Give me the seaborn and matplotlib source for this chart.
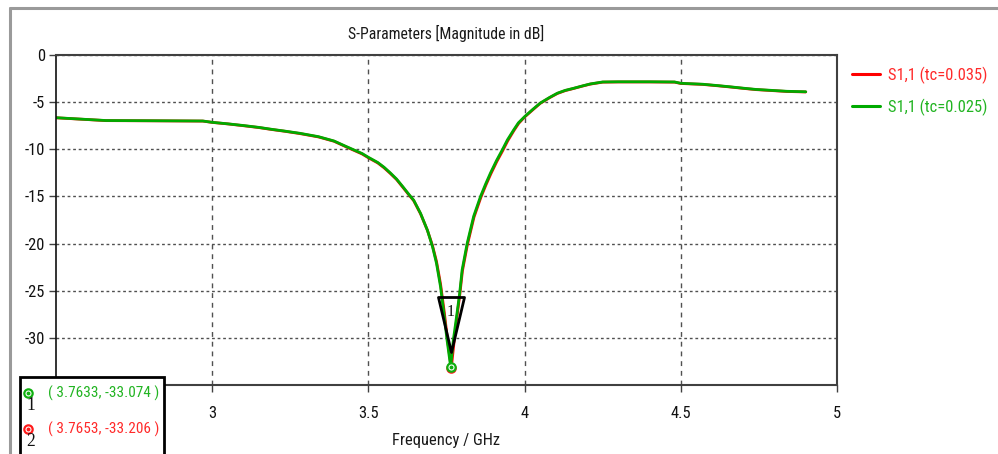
import numpy as np
import pandas as pd
import matplotlib
matplotlib.use("Agg")
import matplotlib.pyplot as plt
import seaborn as sns
from matplotlib.path import Path
from matplotlib.patches import Rectangle
from matplotlib.lines import Line2D
from matplotlib import font_manager

# ---------------- data ----------------
freq_025 = [2.5, 2.58, 2.66, 2.8, 2.97, 3.0, 3.05, 3.1, 3.15, 3.19, 3.23, 3.28, 3.34,
            3.39, 3.43, 3.48, 3.5, 3.53, 3.55, 3.57, 3.59, 3.61, 3.63, 3.645, 3.667, 3.689,
            3.705, 3.718, 3.731, 3.742, 3.752, 3.7633, 3.772, 3.782, 3.792, 3.80, 3.816,
            3.837, 3.859, 3.875, 3.891, 3.91, 3.928, 3.945, 3.965, 3.98, 4.0, 4.025, 4.05,
            4.08, 4.105, 4.13, 4.157, 4.185, 4.21, 4.25, 4.3, 4.4, 4.48,
            4.5, 4.57, 4.62, 4.66, 4.70, 4.74, 4.8, 4.84, 4.9]
s11_025 = [-6.65, -6.8, -6.95, -6.97, -7.0, -7.14, -7.3, -7.48, -7.68, -7.88, -8.06, -8.3, -8.66,
           -9.12, -9.72, -10.45, -10.85, -11.4, -11.9, -12.5, -13.15, -13.96, -14.8, -15.4, -16.8,
           -18.6, -20.3, -22.1, -24.6, -27.5, -30.3, -33.07, -30.2, -27.8, -25.3, -22.8, -20.0,
           -17.1, -15.0, -13.7, -12.5, -11.2, -10.1, -9.0, -7.95, -7.2, -6.54, -5.8, -5.1,
           -4.5, -4.05, -3.75, -3.53, -3.28, -3.07, -2.86, -2.84, -2.84, -2.86,
           -3.0, -3.1, -3.25, -3.38, -3.52, -3.65, -3.77, -3.85, -3.9]

freq_035 = [2.5, 2.58, 2.66, 2.8, 2.97, 3.0, 3.05, 3.1, 3.15, 3.19, 3.23, 3.28, 3.34,
            3.39, 3.43, 3.48, 3.5, 3.53, 3.55, 3.57, 3.59, 3.61, 3.63, 3.645, 3.667, 3.689,
            3.705, 3.718, 3.731, 3.743, 3.754, 3.7653, 3.774, 3.783, 3.793, 3.801, 3.817,
            3.838, 3.86, 3.876, 3.892, 3.911, 3.929, 3.946, 3.966, 3.981, 4.0, 4.025, 4.05,
            4.08, 4.105, 4.13, 4.157, 4.185, 4.21, 4.25, 4.3, 4.4, 4.48,
            4.5, 4.57, 4.62, 4.66, 4.70, 4.74, 4.8, 4.84, 4.9]
s11_035 = [-6.66, -6.81, -6.96, -6.98, -7.01, -7.15, -7.31, -7.5, -7.7, -7.9, -8.08, -8.33, -8.69,
           -9.15, -9.76, -10.5, -10.9, -11.45, -11.96, -12.56, -13.2, -14.02, -14.85, -15.45,
           -16.85, -18.6, -20.2, -21.9, -24.3, -27.3, -30.4, -33.206, -30.5, -27.9, -25.3,
           -22.9, -20.1, -17.2, -15.1, -13.8, -12.6, -11.3, -10.2, -9.1, -8.0, -7.25, -6.58,
           -5.85, -5.13, -4.53, -4.08, -3.78, -3.55, -3.3, -3.09, -2.88, -2.86, -2.86, -2.88,
           -3.02, -3.12, -3.27, -3.4, -3.54, -3.67, -3.79, -3.87, -3.92]

series_labels = ["S1,1 (tc=0.035)", "S1,1 (tc=0.025)"]
series_colors = ["#ff0000", "#00aa00"]
text_colors = ["#ff2a2a", "#22b422"]

marker_freq = [3.7633, 3.7653]
marker_s11 = [-33.074, -33.206]
marker_ids = ["1", "2"]
marker_colors = ["#10b010", "#ff1a1a"]

x_ticks = [3, 3.5, 4, 4.5, 5]
y_ticks = [0, -5, -10, -15, -20, -25, -30]

# ---------------- styling ----------------
sns.set_theme(style="white")
available = {f.name for f in font_manager.fontManager.ttflist}
main_font = "DejaVu Sans"
for cand in ["Liberation Sans Narrow", "DejaVu Sans Condensed", "Roboto Condensed",
             "Open Sans Condensed", "Noto Sans Condensed", "Liberation Sans", "Roboto"]:
    if cand in available:
        main_font = cand
        break
plt.rcParams["font.family"] = [main_font, "DejaVu Sans"]
if main_font == "DejaVu Sans Condensed":
    plt.rcParams["font.stretch"] = "condensed"

W, H = 998, 454
fig = plt.figure(figsize=(W / 100, H / 100), dpi=100)
fig.patch.set_facecolor("white")

# pick a font size so the readout text has the reference width (~110 px)
probe = fig.text(0, 0, f"( {marker_freq[0]:.4f}, {marker_s11[0]:.3f} )", fontsize=10)
fig.canvas.draw()
pw = probe.get_window_extent(fig.canvas.get_renderer()).width
probe.remove()
FS = 10 * 110.0 / pw

ax = fig.add_axes([56 / W, 1 - 385 / H, (837 - 56) / W, 330 / H])

df = pd.concat([
    pd.DataFrame({"freq": freq_035, "s11": s11_035, "series": series_labels[0]}),
    pd.DataFrame({"freq": freq_025, "s11": s11_025, "series": series_labels[1]}),
], ignore_index=True)

sns.lineplot(data=df, x="freq", y="s11", hue="series", hue_order=series_labels,
             palette=series_colors, linewidth=2.0, ax=ax, legend=False,
             sort=False, estimator=None)

ax.set_xlim(2.5, 5)
ax.set_ylim(-35, 0)
ax.set_xticks(x_ticks)
ax.set_xticklabels([f"{t:g}" for t in x_ticks])
ax.set_yticks(y_ticks)
ax.set_yticklabels([f"{t:g}" for t in y_ticks])
ax.set_xlabel("")
ax.set_ylabel("")

ax.set_axisbelow(True)
ax.xaxis.grid(True, linestyle=(0, (3.5, 3.5)), color="#505050", linewidth=1.0)
ax.yaxis.grid(True, linestyle=(0, (2, 2)), color="#505050", linewidth=1.0)

for side in ["top", "right", "bottom"]:
    ax.spines[side].set_color("#404040")
    ax.spines[side].set_linewidth(1.5)
ax.spines["left"].set_color("#101010")
ax.spines["left"].set_linewidth(1.2)

ax.tick_params(axis="both", which="major", direction="out", length=5, width=1,
               color="#404040", labelsize=FS * 1.08, labelcolor="#111111", pad=3,
               bottom=True, left=True)
ax.tick_params(axis="x", pad=10)

# marker points (circle with center dot)
for mx, my, mc, z in zip(marker_freq[::-1], marker_s11[::-1], marker_colors[::-1], [6, 7]):
    ax.plot([mx], [my], marker="o", ms=6, mfc="white", mec=mc, mew=1.6, ls="none", zorder=z)
    ax.plot([mx], [my], marker="o", ms=1.8, mfc=mc, mec=mc, ls="none", zorder=z)

# triangle marker "1" above the green marker point
tri = Path([(0, 15), (-13, 70), (13, 70), (0, 15)],
           [Path.MOVETO, Path.LINETO, Path.LINETO, Path.CLOSEPOLY])
ax.plot([marker_freq[0]], [marker_s11[0]], marker=tri, ms=100.8, mfc="none",
        mec="black", mew=2.0, ls="none", zorder=8)
ax.annotate(marker_ids[0], xy=(marker_freq[0], marker_s11[0]), xytext=(0, 55 * 0.72),
            textcoords="offset points", ha="center", va="center", fontsize=FS * 1.05,
            family=["Liberation Serif", "DejaVu Serif"], color="#111111", zorder=9)

# legend on the right
handles = [Line2D([0], [0], color=c, lw=2.2) for c in series_colors]
leg = ax.legend(handles, series_labels, loc="upper left", bbox_to_anchor=(1.004, 1.0),
                frameon=False, fontsize=FS * 1.08, handlelength=1.75, handletextpad=0.45,
                labelspacing=0.9, borderaxespad=0.0, borderpad=0.7)
for t, c in zip(leg.get_texts(), text_colors):
    t.set_color(c)

# title and x label
fig.text(446 / W, 1 - 33 / H, "S-Parameters [Magnitude in dB]", ha="center", va="center",
         fontsize=FS * 1.03, color="#1a1a1a")
fig.text(446 / W, 1 - 441 / H, "Frequency / GHz", ha="center", va="center",
         fontsize=FS * 1.08, color="#1a1a1a")

# outer gray frame (top and left edges)
fig.add_artist(Line2D([10 / W, 1.0], [1 - 8 / H, 1 - 8 / H], transform=fig.transFigure,
                      color="#9a9a9a", lw=2.2))
fig.add_artist(Line2D([10 / W, 10 / W], [1 - 8 / H, 0], transform=fig.transFigure,
                      color="#9a9a9a", lw=2.2))

# marker readout box at lower left
fig.add_artist(Rectangle((20 / W, -0.05), 144 / W, (454 - 377) / H + 0.05,
                         transform=fig.transFigure, facecolor="white", edgecolor="black",
                         lw=2.0, zorder=20))
rows_y = [393, 429]
for i, (mf, ms_, mid, mc, tc) in enumerate(zip(marker_freq, marker_s11, marker_ids,
                                               marker_colors, text_colors[::-1])):
    yy = rows_y[i]
    fig.add_artist(Line2D([28 / W], [1 - yy / H], transform=fig.transFigure, marker="o",
                          ms=6, mfc="white", mec=mc, mew=1.6, ls="none", zorder=21))
    fig.add_artist(Line2D([28 / W], [1 - yy / H], transform=fig.transFigure, marker="o",
                          ms=1.8, mfc=mc, mec=mc, ls="none", zorder=22))
    fig.text(31 / W, 1 - (yy + 13) / H, mid, ha="center", va="center", fontsize=FS * 1.15,
             family=["Liberation Serif", "DejaVu Serif"], color="#111111", zorder=22)
    fig.text(48 / W, 1 - yy / H, f"( {mf:.4f}, {ms_:.3f} )", ha="left", va="center",
             fontsize=FS, color=tc, zorder=22)

fig.savefig("out.png", dpi=100, facecolor="white")
